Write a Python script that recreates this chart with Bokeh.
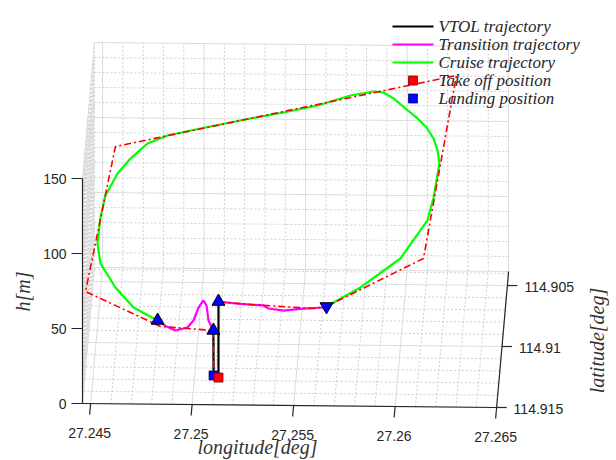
import numpy as np
from bokeh.plotting import figure
from bokeh.models import Range1d
from bokeh.embed import file_html
from bokeh.resources import INLINE
from bokeh.core.properties import value

# ---------------- data: longitude [deg], latitude [deg], altitude h [m] ----------------
takeoff_lon, takeoff_lat, takeoff_h = [27.25118], [114.91277], [0.0]
landing_lon, landing_lat, landing_h = [27.25093], [114.91260], [0.0]

vtol_up_lon = [27.25118, 27.25118]
vtol_up_lat = [114.91277, 114.91277]
vtol_up_h = [0.0, 50.7]

vtol_down_lon = [27.25093, 27.25093]
vtol_down_lat = [114.91277, 114.91260]
vtol_down_h = [31.4, 0.0]

trans1_lon = [27.25118, 27.25202, 27.25276, 27.25340, 27.25364, 27.25438, 27.25522, 27.25630, 27.25650]
trans1_lat = [114.91277, 114.91277, 114.91277, 114.91277, 114.91277, 114.91277, 114.91277, 114.91277, 114.91277]
trans1_h = [50.7, 49.5, 48.9, 48.4, 46.4, 45.1, 46.3, 47.4, 48.1]

trans2_lon = [27.24817, 27.24862, 27.24906, 27.24965, 27.24995, 27.25020, 27.25044, 27.25059, 27.25069, 27.25093]
trans2_lat = [114.91255, 114.91266, 114.91277, 114.91277, 114.91277, 114.91277, 114.91277, 114.91277, 114.91277, 114.91277]
trans2_h = [35.9, 32.8, 31.1, 33.2, 37.9, 46.6, 51.3, 48.0, 38.0, 31.4]

cruise_lon = [27.25650, 27.25817, 27.26012, 27.26138, 27.26163, 27.26184, 27.26171, 27.26148,
              27.26110, 27.26057, 27.25999, 27.25938, 27.25887, 27.25837, 27.25724, 27.25562,
              27.25394, 27.25231, 27.24985, 27.24823, 27.24727, 27.24648, 27.24589, 27.24535,
              27.24516, 27.24507, 27.24526, 27.24604, 27.24696, 27.24817]
cruise_lat = [114.91277, 114.91266, 114.91232, 114.91099, 114.90998, 114.90853, 114.90786, 114.90720,
              114.90653, 114.90586, 114.90519, 114.90485, 114.90452, 114.90441, 114.90441, 114.90441,
              114.90441, 114.90441, 114.90441, 114.90452, 114.90497, 114.90586, 114.90675, 114.90786,
              114.90887, 114.90998, 114.91076, 114.91154, 114.91210, 114.91255]
cruise_h = [48.1, 60.1, 76.9, 91.6, 98.8, 109.7, 112.9, 115.4, 117.3, 118.4, 118.9, 122.8, 124.0,
            123.7, 120.9, 114.0, 109.1, 104.9, 97.9, 93.9, 92.1, 89.2, 86.4, 80.7, 74.2, 65.9,
            59.0, 49.4, 40.7, 35.9]

ref_lon = [27.25118, 27.25276, 27.25586, 27.25650, 27.26125, 27.26246, 27.24566, 27.24460,
           27.24832, 27.25093, 27.25093]
ref_lat = [114.91277, 114.91277, 114.91277, 114.91277, 114.91221, 114.90441, 114.90441, 114.91221,
           114.91277, 114.91277, 114.91260]
ref_h = [50.7, 48.9, 46.7, 48.1, 76.2, 134.9, 85.3, 52.0, 33.7, 31.4, 0.0]

tri_up_lon = [27.25118, 27.24817, 27.25093]
tri_up_lat = [114.91277, 114.91255, 114.91277]
tri_up_h = [50.7, 35.9, 31.4]
tri_down_lon = [27.25650]
tri_down_lat = [114.91277]
tri_down_h = [48.1]

lon_ticks = [27.245, 27.25, 27.255, 27.26, 27.265]
lon_tick_labels = ["27.245", "27.25", "27.255", "27.26", "27.265"]
lat_ticks = [114.905, 114.91, 114.915]
lat_tick_labels = ["114.905", "114.91", "114.915"]
h_ticks = [0, 50, 100, 150]
h_tick_labels = ["0", "50", "100", "150"]

legend_labels = ["VTOL trajectory", "Transition trajectory", "Cruise trajectory",
                 "Take off position", "Landing position"]

# ---------------- axes box & view ----------------
LON_MIN, LON_MAX = 27.2446, 27.2650
LAT_FRONT, LAT_BACK = 114.915, 114.90385
H_MIN, H_MAX = 0.0, 150.0

W, H = 616, 460
OX, OY = 82.0, 403.0        # front-left-bottom corner on the canvas
KX = 20300.0                # px per degree longitude
SLOPE = 0.00966             # vertical drift of the longitude axis
DX_D, DY_D = 12.0, -136.0   # depth (latitude) direction
KH = 1.5                    # px per metre


def proj(lon, lat, h):
    lon = np.asarray(lon, float)
    lat = np.asarray(lat, float)
    h = np.asarray(h, float)
    lp = (lon - LON_MIN) * KX
    d = (LAT_FRONT - lat) / (LAT_FRONT - LAT_BACK)
    return OX + lp + DX_D * d, OY + SLOPE * lp + DY_D * d - KH * h


p = figure(width=W, height=H, x_range=Range1d(0, W), y_range=Range1d(H, 0),
           output_backend="svg", toolbar_location=None, min_border=0)
p.axis.visible = False
p.grid.visible = False
p.outline_line_color = None
p.background_fill_color = "white"
p.border_fill_color = "white"

major_col, minor_col = "#dcdcdc", "#cfcfcf"
lon_minor = [v for v in np.round(np.arange(27.245, 27.2651, 0.001), 3) if v not in lon_ticks]
lat_minor = [v for v in np.round(np.arange(114.904, 114.9151, 0.001), 3) if v not in lat_ticks]
h_minor = [v for v in range(10, 150, 10) if v not in h_ticks]


def seg(a, b):
    x, y = proj([a[0], b[0]], [a[1], b[1]], [a[2], b[2]])
    return list(x), list(y)


def grid_lines(lons, lats, hs):
    xs, ys = [], []
    # back wall
    for lo in lons:
        x, y = seg((lo, LAT_BACK, H_MIN), (lo, LAT_BACK, H_MAX)); xs.append(x); ys.append(y)
    for hh in hs:
        x, y = seg((LON_MIN, LAT_BACK, hh), (LON_MAX, LAT_BACK, hh)); xs.append(x); ys.append(y)
    # floor
    for lo in lons:
        x, y = seg((lo, LAT_FRONT, H_MIN), (lo, LAT_BACK, H_MIN)); xs.append(x); ys.append(y)
    for la in lats:
        x, y = seg((LON_MIN, la, H_MIN), (LON_MAX, la, H_MIN)); xs.append(x); ys.append(y)
    # left wall
    for la in lats:
        x, y = seg((LON_MIN, la, H_MIN), (LON_MIN, la, H_MAX)); xs.append(x); ys.append(y)
    for hh in hs:
        x, y = seg((LON_MIN, LAT_FRONT, hh), (LON_MIN, LAT_BACK, hh)); xs.append(x); ys.append(y)
    return xs, ys


gx, gy = grid_lines(lon_minor, lat_minor, h_minor)
p.multi_line(gx, gy, line_color=minor_col, line_width=1, line_dash="2 2")
gx, gy = grid_lines(lon_ticks, lat_ticks, h_ticks)
p.multi_line(gx, gy, line_color=major_col, line_width=1)

# axis lines
axc = "#262626"
ax_xs, ax_ys = [], []
for a, b in [((LON_MIN, LAT_FRONT, H_MIN), (LON_MIN, LAT_FRONT, H_MAX)),
             ((LON_MIN, LAT_FRONT, H_MIN), (LON_MAX, LAT_FRONT, H_MIN)),
             ((LON_MAX, LAT_FRONT, H_MIN), (LON_MAX, LAT_BACK, H_MIN))]:
    x, y = seg(a, b); ax_xs.append(x); ax_ys.append(y)
# ticks
hx, hy = proj([LON_MIN] * 4, [LAT_FRONT] * 4, h_ticks)
for x, y in zip(hx, hy):
    ax_xs.append([x - 11, x]); ax_ys.append([y, y])
lx, ly = proj(lon_ticks, [LAT_FRONT] * 5, [0] * 5)
for x, y in zip(lx, ly):
    ax_xs.append([x, x - 1]); ax_ys.append([y, y + 11])
tx, ty = proj([LON_MAX] * 3, lat_ticks, [0] * 3)
for x, y in zip(tx, ty):
    ax_xs.append([x, x + 10]); ax_ys.append([y, y])
p.multi_line(ax_xs, ax_ys, line_color=axc, line_width=1.2)

tick_font = value("Liberation Sans")
p.text(x=list(hx - 16), y=list(hy), text=h_tick_labels, text_align="right", text_baseline="middle",
       text_font=tick_font, text_font_size="14px", text_color=axc)
p.text(x=list(lx - 1), y=list(ly + 29), text=lon_tick_labels, text_align="center", text_baseline="middle",
       text_font=tick_font, text_font_size="14px", text_color=axc)
p.text(x=list(tx + 17), y=list(ty + 1), text=lat_tick_labels, text_align="left", text_baseline="middle",
       text_font=tick_font, text_font_size="14px", text_color=axc)

lab_font = value("Liberation Serif")
p.text(x=[257], y=[446], text=["longitude[deg]"], text_align="center", text_baseline="middle",
       text_font=lab_font, text_font_style="italic", text_font_size="20px", text_color="#333333")
p.text(x=[22], y=[291], text=["h[m]"], text_align="center", text_baseline="middle", angle=np.pi / 2,
       text_font=lab_font, text_font_style="italic", text_font_size="20px", text_color="#333333")
p.text(x=[596], y=[340], text=["latitude[deg]"], text_align="center", text_baseline="middle", angle=np.pi / 2,
       text_font=lab_font, text_font_style="italic", text_font_size="20px", text_color="#333333")

# ---------------- trajectories ----------------
cx, cy = proj(cruise_lon, cruise_lat, cruise_h)
p.line(cx, cy, line_color="#00ff00", line_width=2.2)

t1x, t1y = proj(trans1_lon, trans1_lat, trans1_h)
t2x, t2y = proj(trans2_lon, trans2_lat, trans2_h)
p.multi_line([list(t1x), list(t2x)], [list(t1y), list(t2y)], line_color="#ff00ff", line_width=2.2)

v1x, v1y = proj(vtol_up_lon, vtol_up_lat, vtol_up_h)
v2x, v2y = proj(vtol_down_lon, vtol_down_lat, vtol_down_h)
p.multi_line([list(v1x), list(v2x)], [list(v1y), list(v2y)], line_color="black", line_width=2.2)

rx, ry = proj(ref_lon, ref_lat, ref_h)
p.line(rx, ry, line_color="#ff0000", line_width=1.6, line_dash="7 3 2 3")

ux, uy = proj(tri_up_lon, tri_up_lat, tri_up_h)
p.scatter(ux, uy, marker="triangle", size=13, fill_color="#0000ff", line_color="black", line_width=1)
dx_, dy_ = proj(tri_down_lon, tri_down_lat, tri_down_h)
p.scatter(dx_, dy_, marker="inverted_triangle", size=13, fill_color="#0000ff", line_color="black", line_width=1)

lsx, lsy = proj(landing_lon, landing_lat, landing_h)
p.scatter(lsx, lsy, marker="square", size=9, fill_color="#0000ff", line_color="#000080", line_width=0.8)
tsx, tsy = proj(takeoff_lon, takeoff_lat, takeoff_h)
p.scatter(tsx, tsy, marker="square", size=9, fill_color="#ff0000", line_color="#800000", line_width=0.8)

# ---------------- legend (drawn in screen space, no box) ----------------
LEG_X0, LEG_X1, LEG_Y0, LEG_DY = 392, 433, 26, 18
leg_rows = [LEG_Y0 + i * LEG_DY for i in range(5)]
p.multi_line([[LEG_X0, LEG_X1]] * 3, [[leg_rows[i], leg_rows[i]] for i in range(3)],
             line_color=["black", "#ff00ff", "#00ff00"], line_width=2.2)
sq_x = (LEG_X0 + LEG_X1) / 2
p.scatter([sq_x], [leg_rows[3]], marker="square", size=9, fill_color="#ff0000", line_color="#800000", line_width=0.8)
p.scatter([sq_x], [leg_rows[4]], marker="square", size=9, fill_color="#0000ff", line_color="#000080", line_width=0.8)
p.text(x=[LEG_X1 + 5] * 5, y=leg_rows, text=legend_labels, text_align="left", text_baseline="middle",
       text_font=lab_font, text_font_style="italic", text_font_size="17px", text_color="#262626")

open("out.html", "w").write(file_html(p, INLINE))
